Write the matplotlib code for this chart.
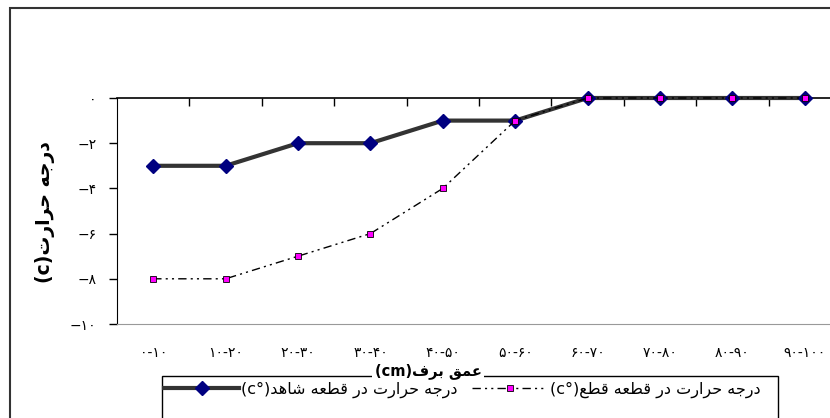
import matplotlib
matplotlib.use("Agg")
import matplotlib.pyplot as plt
from matplotlib.patches import Rectangle
import numpy as np

plt.rcParams['font.family'] = ['DejaVu Sans']

# snow depth classes (cm) and temperature (c) in the two plots
depth_from = [0, 10, 20, 30, 40, 50, 60, 70, 80, 90]
depth_to = [10, 20, 30, 40, 50, 60, 70, 80, 90, 100]
control = [-3, -3, -2, -2, -1, -1, 0, 0, 0, 0]
cut = [-8, -8, -7, -6, -4, -1, 0, 0, 0, 0]
y_ticks = [0, -2, -4, -6, -8, -10]

label_control = 'درجه حرارت در قطعه شاهد'
label_cut = 'درجه حرارت در قطعه قطع'
x_title = 'عمق برف'
y_title = 'درجه حرارت'

# simple arabic shaping (presentation forms) so the text joins and reads right to left
FORMS = {
    'ا': ('\uFE8D', '\uFE8E', None, None),
    'ب': ('\uFE8F', '\uFE90', '\uFE91', '\uFE92'),
    'ت': ('\uFE95', '\uFE96', '\uFE97', '\uFE98'),
    'ج': ('\uFE9D', '\uFE9E', '\uFE9F', '\uFEA0'),
    'ح': ('\uFEA1', '\uFEA2', '\uFEA3', '\uFEA4'),
    'د': ('\uFEA9', '\uFEAA', None, None),
    'ر': ('\uFEAD', '\uFEAE', None, None),
    'ش': ('\uFEB5', '\uFEB6', '\uFEB7', '\uFEB8'),
    'ط': ('\uFEC1', '\uFEC2', '\uFEC3', '\uFEC4'),
    'ع': ('\uFEC9', '\uFECA', '\uFECB', '\uFECC'),
    'ف': ('\uFED1', '\uFED2', '\uFED3', '\uFED4'),
    'ق': ('\uFED5', '\uFED6', '\uFED7', '\uFED8'),
    'م': ('\uFEE1', '\uFEE2', '\uFEE3', '\uFEE4'),
    'ه': ('\uFEE9', '\uFEEA', '\uFEEB', '\uFEEC'),
}


def shape(s):
    out = []
    for i, c in enumerate(s):
        if c not in FORMS:
            out.append(c)
            continue
        prev = s[i - 1] if i > 0 else ''
        nxt = s[i + 1] if i + 1 < len(s) else ''
        jp = prev in FORMS and FORMS[prev][2] is not None
        jn = nxt in FORMS and FORMS[c][2] is not None
        iso, fin, ini, med = FORMS[c]
        if jp and jn:
            out.append(med)
        elif jp:
            out.append(fin)
        elif jn:
            out.append(ini)
        else:
            out.append(iso)
    return ''.join(out)


def rtl(text, latin=''):
    return latin + shape(text)[::-1]


fa_digits = str.maketrans('0123456789', '۰۱۲۳۴۵۶۷۸۹')


def fa(n):
    return str(n).translate(fa_digits)


categories = [f'{fa(a)}-{fa(b)}' for a, b in zip(depth_from, depth_to)]

fig = plt.figure(figsize=(8.3, 4.18), dpi=100)
ax = fig.add_axes([117 / 830, 1 - 324 / 418, 724 / 830, 226 / 418])

x = np.arange(len(categories))
ax.plot(x, control, color='#333333', lw=3, marker='D', ms=7.5,
        mfc='#000080', mec='#000080', clip_on=False, zorder=3,
        label=rtl(label_control, '(c°)'))
ax.plot(x, cut, color='black', lw=1, ls=(0, (6, 3, 1.5, 3, 1.5, 3)),
        marker='s', ms=5, mfc='#ff00ff', mec='black', mew=0.6,
        clip_on=False, zorder=4, label=rtl(label_cut, '(c°)'))

ax.set_xlim(-0.5, len(categories) - 0.5)
ax.set_ylim(-10, 0)
ax.set_xticks(x, categories)
ax.set_xticks(np.arange(0.5, len(categories) - 0.5, 1), minor=True)
ax.tick_params(axis='x', which='major', length=0, pad=16, labelsize=10)
ax.tick_params(axis='x', which='minor', top=True, bottom=False,
               direction='in', length=6, width=1)
ax.set_yticks(y_ticks, [fa(v) if v == 0 else '\u2212' + fa(-v) for v in y_ticks])
ax.tick_params(axis='y', direction='out', length=6, width=1, pad=9, labelsize=10)

ax.spines['top'].set_color('black')
ax.spines['top'].set_linewidth(1.2)
ax.spines['bottom'].set_color('#999999')
ax.spines['left'].set_color('black')
ax.spines['right'].set_visible(False)

# outer chart border
fig.add_artist(Rectangle((10 / 830, -0.1), 1, 1.1 - 8 / 418, transform=fig.transFigure,
                         fill=False, ec='#333333', lw=1.5))

# legend box
fig.add_artist(Rectangle((162 / 830, -0.1), (778 - 162) / 830, 0.1 + 1 - 376 / 418,
                         transform=fig.transFigure, fill=False, ec='black', lw=1))
fig.legend(loc='upper left', bbox_to_anchor=(164 / 830, 1 - 382 / 418), ncol=2,
           frameon=False, handlelength=4.7, handletextpad=0.15, columnspacing=0.9,
           fontsize=11.5, borderaxespad=0, borderpad=0)

fig.text(428 / 830, 1 - 371 / 418, rtl(x_title, '(cm)'), ha='center', va='center',
         fontweight='bold', fontsize=10.5, zorder=5,
         bbox=dict(fc='white', ec='none', pad=2))
fig.text(45 / 830, 1 - 212 / 418, rtl(y_title, '(c)'), rotation=90, ha='center',
         va='center', fontweight='bold', fontsize=13.5)

fig.savefig('out.png', dpi=100)
